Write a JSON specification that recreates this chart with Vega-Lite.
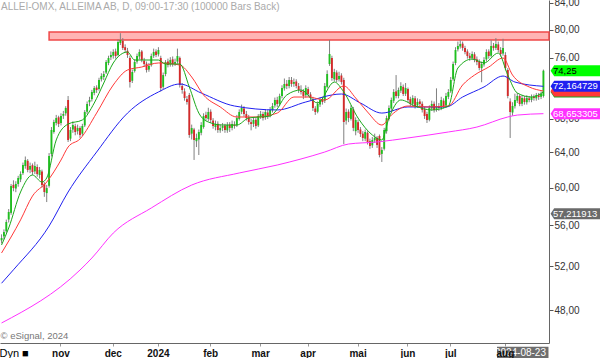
{
"$schema": "https://vega.github.io/schema/vega-lite/v6.json",
"width": 549, "height": 343,
"autosize": "none",
"padding": {"left": 0, "top": 0, "right": 51, "bottom": 15},
"background": "white",
"title": {"text": "ALLEI-OMX, ALLEIMA AB, D, 09:00-17:30 (100000 Bars Back)", "anchor": "start", "frame": "group", "fontSize": 10, "fontWeight": "normal", "color": "#aaaaaa", "baseline": "top", "offset": -14, "dx": 1},
"config": {"view": {"stroke": null}, "font": "Liberation Sans", "axis": {"grid": false}},
"datasets": {
"ohlc": [
{"d":"2023-09-27","o":54.5,"h":55.1,"l":54.2,"c":54.73},
{"d":"2023-09-28","o":54.9,"h":55.6,"l":54.6,"c":55.33},
{"d":"2023-09-29","o":55.4,"h":56.6,"l":55.2,"c":56.35},
{"d":"2023-10-02","o":56.6,"h":57.7,"l":56.3,"c":57.39},
{"d":"2023-10-03","o":57.3,"h":60.4,"l":57.1,"c":60.17},
{"d":"2023-10-04","o":60.3,"h":60.8,"l":59.6,"c":59.95},
{"d":"2023-10-05","o":59.9,"h":60.7,"l":59.5,"c":60.39},
{"d":"2023-10-06","o":60.4,"h":61.3,"l":60.1,"c":61.06},
{"d":"2023-10-09","o":60.9,"h":61.8,"l":60.6,"c":61.5},
{"d":"2023-10-10","o":61.6,"h":62.8,"l":61.4,"c":62.52},
{"d":"2023-10-11","o":62.4,"h":63.5,"l":62.1,"c":63.09},
{"d":"2023-10-12","o":63.0,"h":63.2,"l":61.7,"c":61.96},
{"d":"2023-10-13","o":62.0,"h":62.8,"l":61.6,"c":62.41},
{"d":"2023-10-16","o":62.5,"h":62.7,"l":61.4,"c":61.73},
{"d":"2023-10-17","o":61.8,"h":62.9,"l":61.5,"c":62.41},
{"d":"2023-10-18","o":62.3,"h":62.6,"l":61.2,"c":61.5},
{"d":"2023-10-19","o":61.4,"h":62.3,"l":61.0,"c":61.96},
{"d":"2023-10-20","o":61.8,"h":62.0,"l":60.0,"c":60.28},
{"d":"2023-10-23","o":60.4,"h":60.6,"l":59.0,"c":59.52},
{"d":"2023-10-24","o":59.4,"h":60.3,"l":58.44,"c":59.95},
{"d":"2023-10-25","o":60.2,"h":63.9,"l":60.0,"c":63.56},
{"d":"2023-10-26","o":63.8,"h":67.0,"l":63.5,"c":66.64},
{"d":"2023-10-27","o":66.4,"h":67.9,"l":66.2,"c":67.62},
{"d":"2023-10-30","o":67.5,"h":68.5,"l":67.2,"c":68.11},
{"d":"2023-10-31","o":68.2,"h":68.4,"l":67.0,"c":67.37},
{"d":"2023-11-01","o":67.5,"h":68.7,"l":67.2,"c":68.36},
{"d":"2023-11-02","o":68.4,"h":69.0,"l":68.0,"c":68.61},
{"d":"2023-11-03","o":68.7,"h":69.6,"l":68.4,"c":69.37},
{"d":"2023-11-06","o":70.39,"h":70.9,"l":65.2,"c":65.44},
{"d":"2023-11-07","o":65.6,"h":67.0,"l":65.3,"c":66.64},
{"d":"2023-11-08","o":66.7,"h":67.7,"l":66.3,"c":67.25},
{"d":"2023-11-09","o":67.1,"h":67.4,"l":66.0,"c":66.4},
{"d":"2023-11-10","o":66.5,"h":67.3,"l":66.1,"c":66.88},
{"d":"2023-11-13","o":66.9,"h":67.1,"l":65.7,"c":66.04},
{"d":"2023-11-14","o":66.2,"h":67.4,"l":65.9,"c":67.13},
{"d":"2023-11-15","o":67.2,"h":69.1,"l":67.0,"c":68.86},
{"d":"2023-11-16","o":68.9,"h":70.2,"l":68.6,"c":69.88},
{"d":"2023-11-17","o":70.1,"h":70.8,"l":69.6,"c":70.39},
{"d":"2023-11-20","o":70.5,"h":71.7,"l":70.2,"c":71.42},
{"d":"2023-11-21","o":71.3,"h":72.2,"l":71.0,"c":71.94},
{"d":"2023-11-22","o":72.0,"h":72.3,"l":71.3,"c":71.68},
{"d":"2023-11-23","o":71.8,"h":73.3,"l":71.6,"c":73.0},
{"d":"2023-11-24","o":73.1,"h":73.9,"l":72.8,"c":73.53},
{"d":"2023-11-27","o":73.4,"h":74.2,"l":73.0,"c":73.8},
{"d":"2023-11-28","o":74.0,"h":75.7,"l":73.8,"c":75.43},
{"d":"2023-11-29","o":75.3,"h":76.3,"l":75.0,"c":75.99},
{"d":"2023-11-30","o":76.1,"h":76.9,"l":75.7,"c":76.4},
{"d":"2023-12-01","o":76.3,"h":77.2,"l":75.9,"c":76.82},
{"d":"2023-12-04","o":76.9,"h":77.3,"l":75.9,"c":76.26},
{"d":"2023-12-05","o":76.4,"h":78.6,"l":76.2,"c":78.24},
{"d":"2023-12-06","o":78.1,"h":79.5,"l":77.8,"c":78.52},
{"d":"2023-12-07","o":78.4,"h":78.8,"l":77.1,"c":77.39},
{"d":"2023-12-08","o":77.5,"h":77.9,"l":76.7,"c":77.1},
{"d":"2023-12-11","o":77.0,"h":77.4,"l":76.0,"c":76.4},
{"d":"2023-12-12","o":75.99,"h":76.3,"l":72.0,"c":72.73},
{"d":"2023-12-13","o":72.9,"h":74.4,"l":72.6,"c":74.07},
{"d":"2023-12-14","o":74.2,"h":75.8,"l":74.0,"c":75.43},
{"d":"2023-12-15","o":75.5,"h":76.6,"l":75.2,"c":76.26},
{"d":"2023-12-18","o":76.2,"h":77.2,"l":75.8,"c":76.82},
{"d":"2023-12-19","o":76.9,"h":77.1,"l":75.4,"c":75.71},
{"d":"2023-12-20","o":75.6,"h":76.0,"l":74.8,"c":75.16},
{"d":"2023-12-21","o":75.2,"h":75.5,"l":74.0,"c":74.34},
{"d":"2023-12-22","o":74.4,"h":75.3,"l":74.1,"c":74.89},
{"d":"2023-12-27","o":75.0,"h":76.6,"l":74.8,"c":76.26},
{"d":"2023-12-28","o":76.3,"h":77.3,"l":76.0,"c":76.82},
{"d":"2023-12-29","o":76.9,"h":77.2,"l":76.1,"c":76.4},
{"d":"2024-01-02","o":76.5,"h":77.5,"l":76.2,"c":77.1},
{"d":"2024-01-03","o":75.99,"h":76.3,"l":71.5,"c":71.94},
{"d":"2024-01-04","o":72.1,"h":74.0,"l":71.8,"c":73.66},
{"d":"2024-01-05","o":73.8,"h":75.7,"l":73.5,"c":75.43},
{"d":"2024-01-08","o":75.5,"h":75.9,"l":74.7,"c":75.02},
{"d":"2024-01-09","o":75.1,"h":76.1,"l":74.8,"c":75.71},
{"d":"2024-01-10","o":75.8,"h":76.2,"l":74.8,"c":75.16},
{"d":"2024-01-11","o":75.2,"h":75.9,"l":74.9,"c":75.43},
{"d":"2024-01-12","o":75.5,"h":77.3,"l":75.2,"c":76.26},
{"d":"2024-01-15","o":76.0,"h":76.2,"l":72.0,"c":72.34},
{"d":"2024-01-16","o":72.2,"h":72.6,"l":71.2,"c":71.68},
{"d":"2024-01-17","o":71.5,"h":71.9,"l":70.3,"c":70.64},
{"d":"2024-01-18","o":70.5,"h":70.9,"l":69.8,"c":70.13},
{"d":"2024-01-19","o":71.03,"h":71.3,"l":65.7,"c":66.04},
{"d":"2024-01-22","o":66.2,"h":67.3,"l":65.5,"c":66.88},
{"d":"2024-01-23","o":66.7,"h":66.9,"l":63.1,"c":65.44},
{"d":"2024-01-24","o":65.3,"h":66.2,"l":64.6,"c":65.68},
{"d":"2024-01-25","o":65.5,"h":66.7,"l":63.67,"c":66.4},
{"d":"2024-01-26","o":66.3,"h":67.6,"l":66.0,"c":67.25},
{"d":"2024-01-29","o":67.0,"h":68.7,"l":66.8,"c":68.36},
{"d":"2024-01-30","o":68.5,"h":68.9,"l":67.8,"c":68.11},
{"d":"2024-01-31","o":68.0,"h":69.4,"l":67.7,"c":68.86},
{"d":"2024-02-01","o":68.9,"h":69.2,"l":67.5,"c":67.87},
{"d":"2024-02-02","o":67.8,"h":68.1,"l":66.8,"c":67.13},
{"d":"2024-02-05","o":67.0,"h":67.8,"l":66.6,"c":67.37},
{"d":"2024-02-06","o":67.4,"h":67.7,"l":66.3,"c":66.64},
{"d":"2024-02-07","o":66.6,"h":67.3,"l":66.3,"c":66.88},
{"d":"2024-02-08","o":66.9,"h":67.5,"l":66.5,"c":67.13},
{"d":"2024-02-09","o":67.2,"h":67.4,"l":66.3,"c":66.64},
{"d":"2024-02-12","o":66.6,"h":67.6,"l":66.3,"c":67.25},
{"d":"2024-02-13","o":67.3,"h":67.6,"l":66.4,"c":66.88},
{"d":"2024-02-14","o":66.9,"h":67.8,"l":66.6,"c":67.37},
{"d":"2024-02-15","o":67.3,"h":67.7,"l":66.8,"c":67.13},
{"d":"2024-02-16","o":67.2,"h":68.5,"l":67.0,"c":68.11},
{"d":"2024-02-19","o":68.0,"h":69.2,"l":67.8,"c":68.86},
{"d":"2024-02-20","o":68.9,"h":69.8,"l":68.6,"c":69.37},
{"d":"2024-02-21","o":69.3,"h":69.6,"l":68.3,"c":68.61},
{"d":"2024-02-22","o":68.6,"h":69.0,"l":67.8,"c":68.11},
{"d":"2024-02-23","o":68.2,"h":68.5,"l":67.3,"c":67.62},
{"d":"2024-02-26","o":67.6,"h":68.0,"l":66.6,"c":67.37},
{"d":"2024-02-27","o":67.4,"h":68.2,"l":67.0,"c":67.87},
{"d":"2024-02-28","o":67.9,"h":68.1,"l":66.8,"c":67.13},
{"d":"2024-02-29","o":67.2,"h":68.6,"l":67.0,"c":68.36},
{"d":"2024-03-01","o":68.3,"h":69.0,"l":68.0,"c":68.61},
{"d":"2024-03-04","o":68.6,"h":68.9,"l":67.8,"c":68.11},
{"d":"2024-03-05","o":68.2,"h":69.2,"l":67.9,"c":68.86},
{"d":"2024-03-06","o":68.8,"h":69.1,"l":68.0,"c":68.36},
{"d":"2024-03-07","o":68.4,"h":69.5,"l":68.2,"c":69.12},
{"d":"2024-03-08","o":69.1,"h":70.0,"l":68.8,"c":69.62},
{"d":"2024-03-11","o":69.7,"h":70.7,"l":69.4,"c":70.39},
{"d":"2024-03-12","o":70.4,"h":70.8,"l":69.5,"c":69.88},
{"d":"2024-03-13","o":69.9,"h":71.2,"l":69.6,"c":70.9},
{"d":"2024-03-14","o":70.9,"h":72.3,"l":70.6,"c":71.94},
{"d":"2024-03-15","o":71.9,"h":73.2,"l":71.6,"c":72.47},
{"d":"2024-03-18","o":72.5,"h":73.0,"l":71.8,"c":72.21},
{"d":"2024-03-19","o":72.2,"h":73.4,"l":71.9,"c":73.0},
{"d":"2024-03-20","o":73.0,"h":73.4,"l":72.1,"c":72.47},
{"d":"2024-03-21","o":72.5,"h":73.2,"l":72.1,"c":72.73},
{"d":"2024-03-22","o":72.8,"h":73.1,"l":71.9,"c":72.21},
{"d":"2024-03-25","o":72.2,"h":72.6,"l":71.3,"c":71.68},
{"d":"2024-03-26","o":71.6,"h":72.3,"l":71.1,"c":71.42},
{"d":"2024-03-27","o":71.5,"h":71.8,"l":70.5,"c":70.9},
{"d":"2024-03-28","o":71.0,"h":72.3,"l":70.7,"c":71.94},
{"d":"2024-04-02","o":71.8,"h":72.1,"l":70.8,"c":71.16},
{"d":"2024-04-03","o":71.1,"h":71.4,"l":70.3,"c":70.64},
{"d":"2024-04-04","o":70.5,"h":70.8,"l":69.0,"c":69.37},
{"d":"2024-04-05","o":69.3,"h":69.6,"l":68.5,"c":68.86},
{"d":"2024-04-08","o":68.9,"h":70.2,"l":68.7,"c":69.88},
{"d":"2024-04-09","o":69.8,"h":70.7,"l":69.5,"c":70.39},
{"d":"2024-04-10","o":70.4,"h":70.8,"l":69.8,"c":70.13},
{"d":"2024-04-11","o":70.3,"h":72.6,"l":70.0,"c":72.21},
{"d":"2024-04-12","o":72.1,"h":74.3,"l":71.9,"c":73.8},
{"d":"2024-04-15","o":75.16,"h":78.52,"l":74.9,"c":76.54},
{"d":"2024-04-16","o":75.99,"h":76.3,"l":72.9,"c":73.27},
{"d":"2024-04-17","o":73.1,"h":74.5,"l":72.8,"c":74.07},
{"d":"2024-04-18","o":74.0,"h":74.3,"l":72.7,"c":73.0},
{"d":"2024-04-19","o":73.1,"h":74.1,"l":72.8,"c":73.53},
{"d":"2024-04-22","o":73.6,"h":73.9,"l":72.4,"c":72.73},
{"d":"2024-04-23","o":73.0,"h":73.3,"l":64.96,"c":67.62},
{"d":"2024-04-24","o":67.8,"h":69.3,"l":67.3,"c":68.86},
{"d":"2024-04-25","o":68.9,"h":69.2,"l":67.6,"c":68.11},
{"d":"2024-04-26","o":68.0,"h":69.7,"l":67.8,"c":69.37},
{"d":"2024-04-29","o":69.2,"h":69.5,"l":66.5,"c":66.9},
{"d":"2024-04-30","o":66.5,"h":68.2,"l":66.0,"c":67.87},
{"d":"2024-05-02","o":67.6,"h":67.9,"l":66.3,"c":66.64},
{"d":"2024-05-03","o":66.7,"h":67.0,"l":65.8,"c":66.16},
{"d":"2024-05-06","o":66.2,"h":66.5,"l":65.3,"c":65.68},
{"d":"2024-05-07","o":65.6,"h":66.7,"l":65.3,"c":66.4},
{"d":"2024-05-08","o":66.3,"h":66.5,"l":64.9,"c":65.2},
{"d":"2024-05-10","o":65.3,"h":65.6,"l":64.4,"c":64.73},
{"d":"2024-05-13","o":64.8,"h":65.8,"l":64.5,"c":65.44},
{"d":"2024-05-14","o":65.4,"h":66.2,"l":65.1,"c":65.68},
{"d":"2024-05-15","o":65.7,"h":65.9,"l":64.5,"c":64.85},
{"d":"2024-05-16","o":65.92,"h":66.1,"l":63.4,"c":63.67},
{"d":"2024-05-17","o":63.8,"h":64.6,"l":62.87,"c":64.25},
{"d":"2024-05-20","o":64.4,"h":66.9,"l":64.2,"c":66.64},
{"d":"2024-05-21","o":66.5,"h":68.4,"l":66.2,"c":68.11},
{"d":"2024-05-22","o":68.0,"h":69.7,"l":67.8,"c":69.37},
{"d":"2024-05-23","o":69.3,"h":70.7,"l":69.0,"c":70.39},
{"d":"2024-05-24","o":70.3,"h":71.8,"l":70.0,"c":71.42},
{"d":"2024-05-27","o":71.5,"h":73.66,"l":70.6,"c":70.9},
{"d":"2024-05-28","o":70.9,"h":72.0,"l":70.6,"c":71.68},
{"d":"2024-05-29","o":71.6,"h":72.7,"l":71.3,"c":72.21},
{"d":"2024-05-30","o":72.1,"h":72.4,"l":70.9,"c":71.16},
{"d":"2024-05-31","o":71.2,"h":72.6,"l":70.9,"c":71.94},
{"d":"2024-06-03","o":71.8,"h":72.0,"l":70.1,"c":70.39},
{"d":"2024-06-04","o":70.5,"h":70.8,"l":69.6,"c":69.88},
{"d":"2024-06-05","o":69.9,"h":71.0,"l":69.6,"c":70.64},
{"d":"2024-06-07","o":70.6,"h":70.9,"l":69.3,"c":69.62},
{"d":"2024-06-10","o":69.7,"h":70.6,"l":69.4,"c":70.13},
{"d":"2024-06-11","o":70.2,"h":70.5,"l":69.5,"c":69.88},
{"d":"2024-06-12","o":69.9,"h":70.2,"l":68.8,"c":69.12},
{"d":"2024-06-13","o":69.2,"h":69.5,"l":68.0,"c":68.36},
{"d":"2024-06-14","o":68.6,"h":68.9,"l":67.5,"c":67.87},
{"d":"2024-06-17","o":67.9,"h":69.7,"l":67.7,"c":69.37},
{"d":"2024-06-18","o":69.3,"h":70.3,"l":69.0,"c":69.88},
{"d":"2024-06-19","o":69.9,"h":70.2,"l":68.8,"c":69.12},
{"d":"2024-06-20","o":69.2,"h":71.9,"l":68.9,"c":69.62},
{"d":"2024-06-24","o":69.6,"h":70.0,"l":69.0,"c":69.37},
{"d":"2024-06-25","o":69.4,"h":70.8,"l":69.1,"c":70.39},
{"d":"2024-06-26","o":70.3,"h":70.6,"l":69.3,"c":69.62},
{"d":"2024-06-27","o":69.7,"h":71.3,"l":69.4,"c":70.9},
{"d":"2024-06-28","o":70.8,"h":71.8,"l":70.5,"c":71.42},
{"d":"2024-07-01","o":71.5,"h":73.4,"l":71.3,"c":73.0},
{"d":"2024-07-02","o":73.1,"h":75.5,"l":72.9,"c":75.16},
{"d":"2024-07-03","o":75.3,"h":77.5,"l":75.0,"c":77.1},
{"d":"2024-07-04","o":77.2,"h":78.3,"l":76.9,"c":77.67},
{"d":"2024-07-05","o":77.6,"h":78.5,"l":77.3,"c":77.95},
{"d":"2024-07-08","o":78.0,"h":78.3,"l":77.0,"c":77.39},
{"d":"2024-07-09","o":77.4,"h":77.7,"l":76.5,"c":76.82},
{"d":"2024-07-10","o":76.9,"h":77.2,"l":75.9,"c":76.26},
{"d":"2024-07-11","o":76.3,"h":76.7,"l":75.6,"c":75.99},
{"d":"2024-07-12","o":76.0,"h":76.9,"l":75.7,"c":76.54},
{"d":"2024-07-15","o":76.5,"h":76.8,"l":75.4,"c":75.71},
{"d":"2024-07-16","o":75.8,"h":76.2,"l":75.0,"c":75.43},
{"d":"2024-07-17","o":75.5,"h":75.8,"l":74.3,"c":74.61},
{"d":"2024-07-18","o":74.6,"h":75.5,"l":72.7,"c":75.16},
{"d":"2024-07-19","o":75.1,"h":76.1,"l":74.8,"c":75.71},
{"d":"2024-07-22","o":75.8,"h":77.2,"l":75.5,"c":76.82},
{"d":"2024-07-23","o":76.9,"h":77.2,"l":75.9,"c":76.26},
{"d":"2024-07-24","o":76.3,"h":78.5,"l":76.1,"c":77.67},
{"d":"2024-07-25","o":77.7,"h":78.1,"l":77.0,"c":77.39},
{"d":"2024-07-26","o":77.4,"h":78.8,"l":77.1,"c":77.95},
{"d":"2024-07-29","o":77.9,"h":78.3,"l":76.8,"c":77.1},
{"d":"2024-07-30","o":77.1,"h":77.5,"l":76.2,"c":76.54},
{"d":"2024-07-31","o":76.6,"h":78.7,"l":76.3,"c":77.39},
{"d":"2024-08-01","o":76.4,"h":76.8,"l":74.3,"c":74.61},
{"d":"2024-08-02","o":74.34,"h":74.6,"l":70.6,"c":70.9},
{"d":"2024-08-05","o":70.2,"h":70.6,"l":65.68,"c":68.86},
{"d":"2024-08-06","o":68.8,"h":70.1,"l":68.4,"c":69.62},
{"d":"2024-08-07","o":69.6,"h":71.2,"l":69.3,"c":70.39},
{"d":"2024-08-08","o":70.3,"h":71.3,"l":70.0,"c":70.9},
{"d":"2024-08-09","o":70.9,"h":71.1,"l":69.6,"c":69.88},
{"d":"2024-08-12","o":69.9,"h":71.0,"l":69.6,"c":70.64},
{"d":"2024-08-13","o":70.6,"h":70.9,"l":69.8,"c":70.13},
{"d":"2024-08-14","o":70.1,"h":71.0,"l":69.8,"c":70.64},
{"d":"2024-08-15","o":70.6,"h":70.9,"l":70.1,"c":70.39},
{"d":"2024-08-16","o":70.4,"h":71.1,"l":70.1,"c":70.77},
{"d":"2024-08-19","o":70.8,"h":71.1,"l":70.3,"c":70.64},
{"d":"2024-08-20","o":70.6,"h":71.3,"l":70.3,"c":71.03},
{"d":"2024-08-21","o":71.0,"h":71.3,"l":70.4,"c":70.77},
{"d":"2024-08-22","o":70.8,"h":71.5,"l":70.5,"c":71.16},
{"d":"2024-08-23","o":70.9,"h":74.4,"l":70.7,"c":74.25}
],
"ma": [
{"d":"2023-09-27","s":"m","v":46.88},{"d":"2023-11-13","s":"m","v":51.63},{"d":"2023-11-20","s":"m","v":52.77},{"d":"2023-12-01","s":"m","v":55.23},{"d":"2023-12-27","s":"m","v":57.81},{"d":"2024-01-22","s":"m","v":60.28},{"d":"2024-02-19","s":"m","v":61.62},{"d":"2024-03-12","s":"m","v":62.52},{"d":"2024-04-11","s":"m","v":64.02},{"d":"2024-04-25","s":"m","v":64.96},{"d":"2024-05-15","s":"m","v":65.2},{"d":"2024-06-03","s":"m","v":65.68},{"d":"2024-06-28","s":"m","v":66.4},{"d":"2024-07-16","s":"m","v":67.0},{"d":"2024-08-02","s":"m","v":68.24},{"d":"2024-08-08","s":"m","v":68.48},{"d":"2024-08-23","s":"m","v":68.653},
{"d":"2023-09-27","s":"b","v":50.4},{"d":"2023-10-04","s":"b","v":51.65},{"d":"2023-10-25","s":"b","v":55.94},{"d":"2023-11-06","s":"b","v":59.52},{"d":"2023-11-22","s":"b","v":64.02},{"d":"2023-12-11","s":"b","v":68.73},{"d":"2024-01-02","s":"b","v":71.42},{"d":"2024-01-15","s":"b","v":72.47},{"d":"2024-01-26","s":"b","v":71.29},{"d":"2024-02-15","s":"b","v":69.62},{"d":"2024-03-12","s":"b","v":69.12},{"d":"2024-03-28","s":"b","v":70.13},{"d":"2024-04-22","s":"b","v":71.16},{"d":"2024-05-03","s":"b","v":70.0},{"d":"2024-05-17","s":"b","v":68.73},{"d":"2024-06-03","s":"b","v":69.5},{"d":"2024-06-27","s":"b","v":69.5},{"d":"2024-07-08","s":"b","v":70.77},{"d":"2024-07-19","s":"b","v":72.08},{"d":"2024-07-31","s":"b","v":73.53},{"d":"2024-08-07","s":"b","v":72.73},{"d":"2024-08-23","s":"b","v":72.1647},
{"d":"2023-09-27","s":"r","v":53.26},{"d":"2023-10-09","s":"r","v":56.57},{"d":"2023-10-16","s":"r","v":59.08},{"d":"2023-10-24","s":"r","v":60.61},{"d":"2023-11-01","s":"r","v":63.09},{"d":"2023-11-06","s":"r","v":64.61},{"d":"2023-11-13","s":"r","v":65.56},{"d":"2023-11-22","s":"r","v":68.73},{"d":"2023-12-01","s":"r","v":72.34},{"d":"2023-12-11","s":"r","v":74.34},{"d":"2023-12-19","s":"r","v":74.75},{"d":"2024-01-02","s":"r","v":75.3},{"d":"2024-01-15","s":"r","v":75.02},{"d":"2024-01-22","s":"r","v":73.4},{"d":"2024-01-29","s":"r","v":71.03},{"d":"2024-02-07","s":"r","v":69.5},{"d":"2024-02-16","s":"r","v":68.24},{"d":"2024-02-28","s":"r","v":68.24},{"d":"2024-03-12","s":"r","v":68.73},{"d":"2024-03-21","s":"r","v":70.77},{"d":"2024-04-02","s":"r","v":70.77},{"d":"2024-04-11","s":"r","v":70.39},{"d":"2024-04-23","s":"r","v":72.21},{"d":"2024-04-30","s":"r","v":70.64},{"d":"2024-05-08","s":"r","v":68.86},{"d":"2024-05-17","s":"r","v":67.25},{"d":"2024-05-23","s":"r","v":68.48},{"d":"2024-06-03","s":"r","v":69.62},{"d":"2024-06-14","s":"r","v":69.5},{"d":"2024-06-28","s":"r","v":69.62},{"d":"2024-07-08","s":"r","v":72.34},{"d":"2024-07-15","s":"r","v":73.66},{"d":"2024-07-23","s":"r","v":74.75},{"d":"2024-07-31","s":"r","v":75.99},{"d":"2024-08-06","s":"r","v":73.66},{"d":"2024-08-15","s":"r","v":72.08},{"d":"2024-08-23","s":"r","v":71.55},
{"d":"2023-09-27","s":"g","v":54.04},{"d":"2023-10-02","s":"g","v":55.74},{"d":"2023-10-09","s":"g","v":59.52},{"d":"2023-10-16","s":"g","v":61.39},{"d":"2023-10-20","s":"g","v":60.61},{"d":"2023-10-24","s":"g","v":61.06},{"d":"2023-10-30","s":"g","v":65.44},{"d":"2023-11-06","s":"g","v":67.37},{"d":"2023-11-14","s":"g","v":67.87},{"d":"2023-11-21","s":"g","v":70.0},{"d":"2023-11-27","s":"g","v":72.6},{"d":"2023-12-01","s":"g","v":75.3},{"d":"2023-12-11","s":"g","v":76.82},{"d":"2023-12-14","s":"g","v":75.71},{"d":"2023-12-22","s":"g","v":75.71},{"d":"2024-01-02","s":"g","v":75.71},{"d":"2024-01-05","s":"g","v":75.16},{"d":"2024-01-15","s":"g","v":75.16},{"d":"2024-01-19","s":"g","v":72.08},{"d":"2024-01-25","s":"g","v":68.73},{"d":"2024-01-31","s":"g","v":67.62},{"d":"2024-02-08","s":"g","v":67.25},{"d":"2024-02-16","s":"g","v":67.25},{"d":"2024-02-23","s":"g","v":68.11},{"d":"2024-03-07","s":"g","v":68.36},{"d":"2024-03-11","s":"g","v":68.86},{"d":"2024-03-18","s":"g","v":71.03},{"d":"2024-03-26","s":"g","v":71.68},{"d":"2024-04-08","s":"g","v":70.0},{"d":"2024-04-17","s":"g","v":72.73},{"d":"2024-04-23","s":"g","v":71.42},{"d":"2024-05-02","s":"g","v":68.11},{"d":"2024-05-13","s":"g","v":66.04},{"d":"2024-05-17","s":"g","v":65.44},{"d":"2024-05-22","s":"g","v":68.11},{"d":"2024-05-29","s":"g","v":70.39},{"d":"2024-06-07","s":"g","v":69.62},{"d":"2024-06-18","s":"g","v":69.12},{"d":"2024-06-28","s":"g","v":69.62},{"d":"2024-07-04","s":"g","v":74.61},{"d":"2024-07-12","s":"g","v":75.85},{"d":"2024-07-19","s":"g","v":75.3},{"d":"2024-07-29","s":"g","v":76.68},{"d":"2024-08-02","s":"g","v":73.66},{"d":"2024-08-08","s":"g","v":71.29},{"d":"2024-08-16","s":"g","v":70.77},{"d":"2024-08-23","s":"g","v":71.42}
],
"lbl": [
{"s":"g","v":71.42,"t":""},
{"s":"r","v":71.55,"t":""},
{"s":"b","v":72.164729,"t":"72,164729"},
{"s":"m","v":68.653305,"t":"68,653305"},
{"s":"q","v":57.211913,"t":"57,211913"},
{"s":"p","v":74.25,"t":"74,25"}
],
"zone": [{"d":"2023-10-25","lo":78.52,"hi":79.67}],
"note": [{"d":"2023-09-27","v":45.8,"t":"© eSignal, 2024"}],
"last": [{"t":"2024-08-23"}]
},
"layer": [
{
"data": {"name": "zone"},
"mark": {"type": "rect", "fill": "#ffb4b4", "stroke": "#f04848", "strokeWidth": 1.5},
"encoding": {
"x": {"field": "d", "type": "ordinal", "sort": "ascending",
"scale": {"type": "band", "paddingInner": 0, "paddingOuter": 2.56, "align": 0.078},
"axis": {"values": ["2023-11-01","2023-12-01","2024-01-02","2024-02-01","2024-03-01","2024-04-02","2024-05-02","2024-06-03","2024-07-01","2024-08-01"],
"labelExpr": "slice(datum.value,5,7)=='01' ? '2024' : ['','','feb','mar','apr','mai','jun','jul','aug','','','nov','dec'][toNumber(slice(datum.value,5,7))]",
"labelAngle": 0, "labelFontSize": 10, "labelFontWeight": "bold", "labelColor": "#111111", "labelPadding": 2, "labelOverlap": false, "labelFlush": false,
"tickSize": 3, "tickColor": "#999999", "domainColor": "#666666",
"title": "Dyn ■", "titleAnchor": "start", "titleAlign": "left", "titleX": -1, "titleY": 13, "titleBaseline": "alphabetic", "titleFontSize": 11, "titleFontWeight": "normal", "titleColor": "#000000"}},
"x2": {"value": "width"},
"y": {"field": "lo", "type": "quantitative",
"scale": {"type": "log", "domain": [45.2, 84.46], "nice": false, "zero": false},
"axis": {"orient": "right", "values": [48,52,56,60,64,68,76,80,84], "labelExpr": "replace(format(datum.value,'.2f'),'.',',')", "labelFontSize": 10, "labelColor": "#333333", "labelPadding": 1, "tickSize": 4, "tickColor": "#555555", "domainColor": "#666666", "title": null}},
"y2": {"field": "hi"}
}
},
{
"data": {"name": "ohlc"},
"mark": {"type": "rule", "color": "#808080", "strokeWidth": 1},
"encoding": {
"x": {"field": "d", "type": "ordinal"},
"y": {"field": "l", "type": "quantitative"},
"y2": {"field": "h"}
}
},
{
"data": {"name": "ohlc"},
"mark": {"type": "bar", "width": {"band": 0.8}},
"encoding": {
"x": {"field": "d", "type": "ordinal"},
"y": {"field": "o", "type": "quantitative"},
"y2": {"field": "c"},
"color": {"condition": {"test": "datum.c >= datum.o", "value": "#1fbf1f"}, "value": "#d42a2a"}
}
},
{
"data": {"name": "ma"},
"mark": {"type": "line", "strokeWidth": 1, "interpolate": "monotone"},
"encoding": {
"x": {"field": "d", "type": "ordinal"},
"y": {"field": "v", "type": "quantitative"},
"detail": {"field": "s"},
"color": {"field": "s", "type": "nominal", "legend": null,
"scale": {"domain": ["g","r","b","m","p","q"], "range": ["#1aa81a","#ff3838","#2020f0","#ff30ff","#00ff00","#6a6a6a"]}}
}
},
{
"data": {"name": "lbl"},
"mark": {"type": "point", "shape": "M0.06,0L0.2,-0.21H2.1V0.21H0.2Z", "size": 2704, "filled": true, "opacity": 1, "strokeWidth": 0},
"encoding": {
"x": {"value": "width"},
"y": {"field": "v", "type": "quantitative"},
"color": {"field": "s", "type": "nominal", "legend": null}
}
},
{
"data": {"name": "lbl"},
"mark": {"type": "text", "align": "left", "baseline": "middle", "dx": 4, "fontSize": 9.5},
"encoding": {
"x": {"value": "width"},
"y": {"field": "v", "type": "quantitative"},
"text": {"field": "t"},
"color": {"condition": {"test": "datum.s == 'p'", "value": "#000000"}, "value": "#ffffff"}
}
},
{
"data": {"name": "last"},
"mark": {"type": "point", "shape": "M-2,0.14H-0.02V0.62H-2Z", "size": 2704, "filled": true, "opacity": 1, "strokeWidth": 0, "color": "#6e6e6e"},
"encoding": {"x": {"value": "width"}, "y": {"value": "height"}}
},
{
"data": {"name": "last"},
"mark": {"type": "text", "align": "right", "baseline": "alphabetic", "dx": -3, "dy": 13, "fontSize": 10, "color": "#ffffff"},
"encoding": {"x": {"value": "width"}, "y": {"value": "height"}, "text": {"field": "t"}}
},
{
"data": {"name": "note"},
"mark": {"type": "text", "align": "left", "baseline": "middle", "dx": -1, "fontSize": 9.5, "color": "#777777"},
"encoding": {
"x": {"field": "d", "type": "ordinal"},
"y": {"field": "v", "type": "quantitative"},
"text": {"field": "t"}
}
}
]
}
